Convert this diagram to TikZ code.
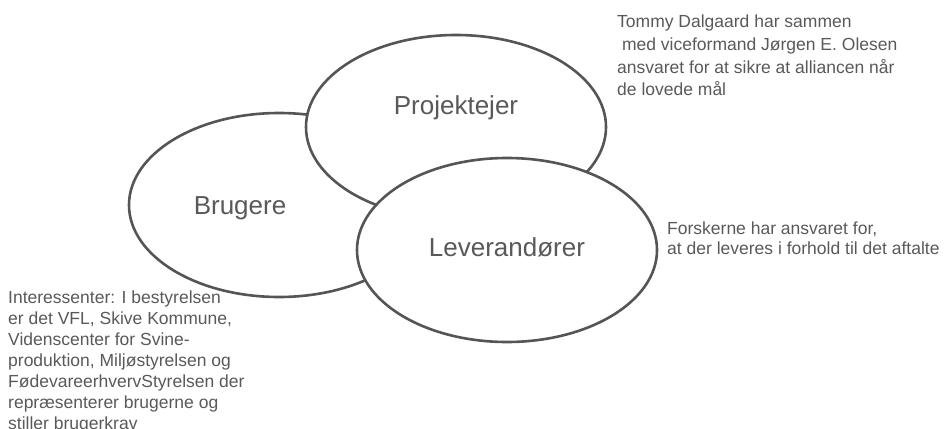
\documentclass[tikz,border=0pt]{standalone}
\usepackage{fontspec}
\setmainfont{Liberation Sans}
\usetikzlibrary{shapes.geometric}
\definecolor{txt}{HTML}{595959}
\definecolor{edge}{HTML}{555555}
\begin{document}
\begin{tikzpicture}[x=1pt,y=-1pt,
  blob/.style={draw=edge,fill=white,line width=2.6pt,ellipse,minimum width=300pt,minimum height=184pt,inner sep=0pt},
  lab/.style={text=txt,font=\fontsize{26}{30}\selectfont},
  note/.style={text=txt,align=left,anchor=north west,inner sep=0pt}]
\useasboundingbox (0,0) rectangle (944,428);
\node[blob] (bru) at (279,205) {};
\node[blob] (pro) at (456,127) {};
\node[blob] (lev) at (507,250) {};
\node[lab] (brut) at (240,208) {Brugere};
\node[lab] (prot) at (456,108) {Projektejer};
\node[lab] (levt) at (507,247) {Leverandører};
\node[note,font=\fontsize{17.5}{22.7}\selectfont] (n1) at (617,15) {Tommy Dalgaard har sammen\\\hspace{0.28em}med viceformand Jørgen E. Olesen\\ansvaret for at sikre at alliancen når\\de lovede mål};
\node[note,font=\fontsize{17.5}{20}\selectfont] (n2) at (667,222) {Forskerne har ansvaret for,\\at der leveres i forhold til det aftalte};
\node[note,font=\fontsize{17.5}{21}\selectfont] (n3) at (8,291) {Interessenter: I bestyrelsen\\er det VFL, Skive Kommune,\\Videnscenter for Svine-\\produktion, Miljøstyrelsen og\\FødevareerhvervStyrelsen der\\repræsenterer brugerne og\\stiller brugerkrav};
\end{tikzpicture}
\end{document}
